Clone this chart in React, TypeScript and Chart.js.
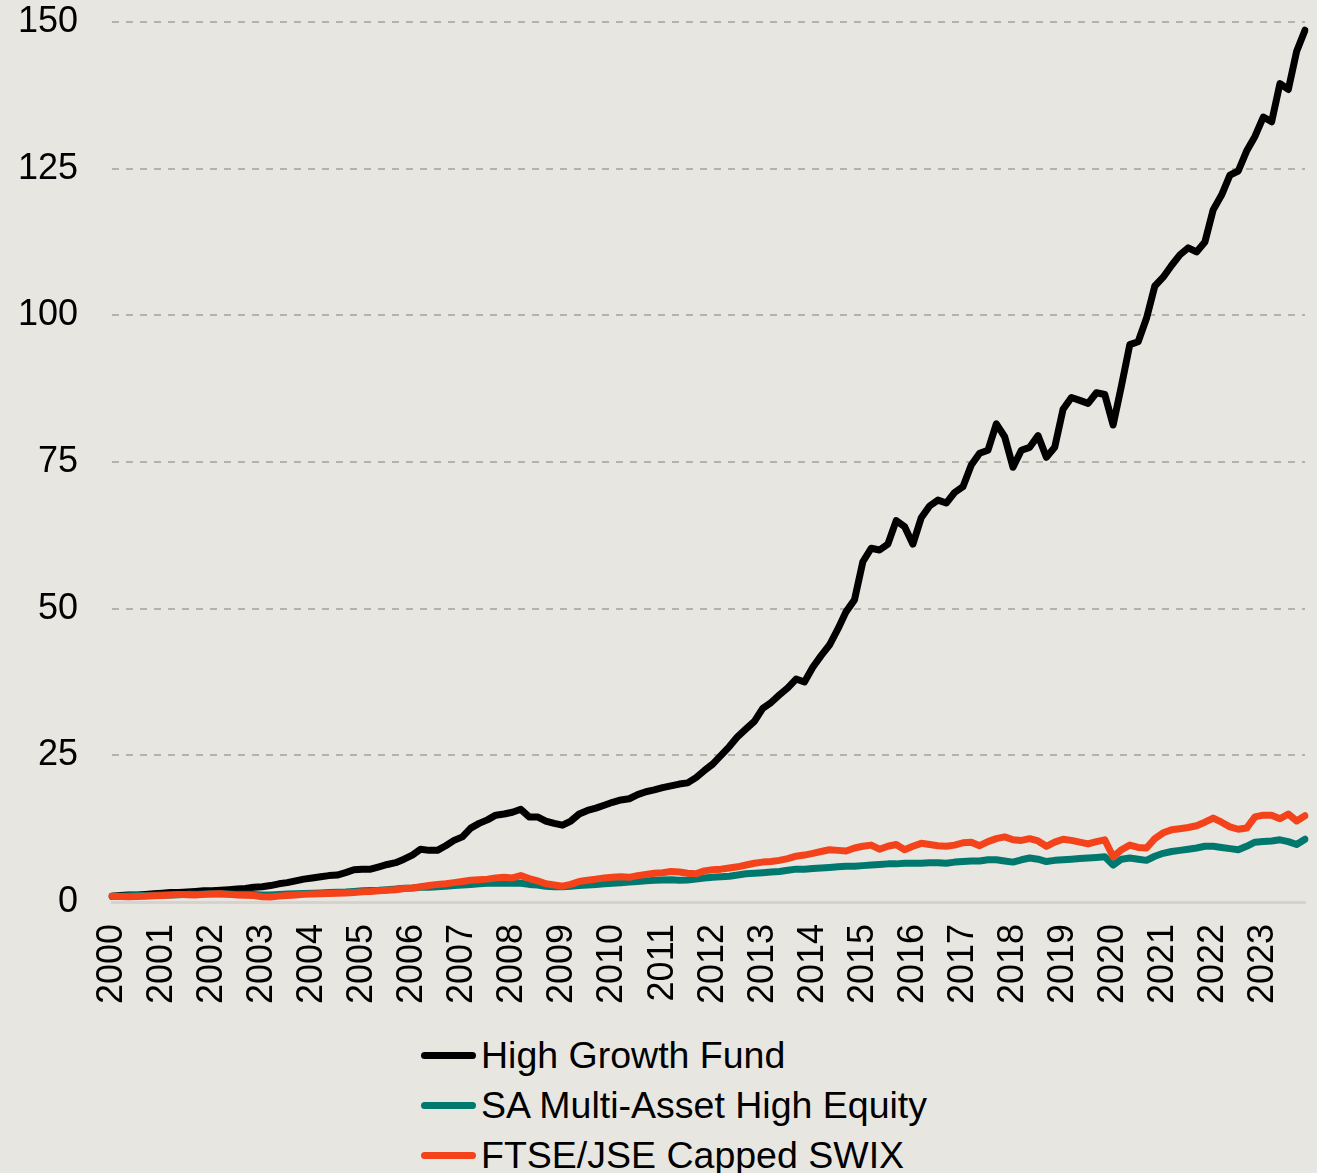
import React, { useEffect, useRef } from "react";
import { Chart, registerables } from "chart.js";

Chart.register(...registerables);

// Years shown on the axis and the bi-monthly sampling within each year
const years = [
  2000, 2001, 2002, 2003, 2004, 2005, 2006, 2007, 2008, 2009, 2010, 2011,
  2012, 2013, 2014, 2015, 2016, 2017, 2018, 2019, 2020, 2021, 2022, 2023,
];
const months = ["01", "03", "05", "07", "09", "11"];
const categories: string[] = [];
years.forEach((y) => months.forEach((m) => categories.push(`${y}-${m}`)));

const yTicks = [0, 25, 50, 75, 100, 125, 150];

const seriesNames = [
  "High Growth Fund",
  "SA Multi-Asset High Equity",
  "FTSE/JSE Capped SWIX",
];
const seriesColors = ["#000000", "#00786E", "#F4421A"];

// High Growth Fund (6 values per year)
const highGrowth = [
  1.0, 1.1, 1.2, 1.2, 1.3, 1.4,
  1.5, 1.6, 1.6, 1.7, 1.8, 1.9,
  1.9, 2.0, 2.1, 2.2, 2.3, 2.5,
  2.6, 2.8, 3.1, 3.3, 3.6, 3.9,
  4.1, 4.3, 4.5, 4.6, 5.0, 5.5,
  5.6, 5.6, 6.0, 6.4, 6.7, 7.3,
  8.0, 9.0, 8.8, 8.8, 9.6, 10.5,
  11.1, 12.6, 13.4, 14.0, 14.8, 15.0,
  15.3, 15.8, 14.5, 14.5, 13.8, 13.4,
  13.1, 13.8, 15.0, 15.6, 16.0, 16.5,
  17.0, 17.4, 17.6, 18.3, 18.8, 19.1,
  19.5, 19.8, 20.1, 20.3, 21.2, 22.4,
  23.5, 25.0, 26.5, 28.2, 29.5, 30.8,
  33.0, 34.0, 35.3, 36.5, 38.0, 37.5,
  40.0, 42.0, 43.8, 46.5, 49.5, 51.5,
  58.0, 60.3, 60.0, 61.0, 65.0, 64.0,
  61.0, 65.5, 67.5, 68.5, 68.0, 69.8,
  70.8, 74.5, 76.5, 77.0, 81.5, 79.3,
  74.1, 77.0, 77.5, 79.5, 75.8, 77.5,
  84.0, 86.0, 85.5, 85.0, 86.8, 86.5,
  81.3, 88.0, 95.0, 95.5, 99.5, 105.0,
  106.5, 108.5, 110.3, 111.5, 110.8, 112.5,
  118.0, 120.5, 123.9, 124.6, 128.0, 130.5,
  133.8, 133.0, 139.5, 138.5, 145.0, 148.6,
];

// SA Multi-Asset High Equity
const multiAsset = [
  1.0, 1.0, 1.05, 1.1, 1.1, 1.15,
  1.2, 1.2, 1.25, 1.3, 1.3, 1.35,
  1.4, 1.4, 1.35, 1.3, 1.3, 1.3,
  1.2, 1.2, 1.3, 1.35, 1.4, 1.45,
  1.5, 1.55, 1.6, 1.65, 1.7, 1.8,
  1.9, 1.95, 2.0, 2.1, 2.2, 2.35,
  2.4, 2.5, 2.5, 2.6, 2.7, 2.8,
  2.9, 3.0, 3.1, 3.2, 3.2, 3.2,
  3.2, 3.2, 3.0, 2.9, 2.7, 2.6,
  2.6, 2.7, 2.8, 2.9, 3.0, 3.1,
  3.2, 3.3, 3.4, 3.5, 3.6, 3.7,
  3.75, 3.8, 3.7, 3.75, 3.9, 4.1,
  4.2, 4.3, 4.4, 4.6, 4.8, 4.9,
  5.0, 5.1, 5.2, 5.4, 5.6, 5.6,
  5.7, 5.8, 5.9, 6.0, 6.1, 6.1,
  6.2, 6.3, 6.4, 6.5, 6.5, 6.6,
  6.6, 6.6, 6.7, 6.7, 6.6, 6.8,
  6.9, 7.0, 7.0, 7.2, 7.2, 7.0,
  6.8, 7.2, 7.5, 7.3, 6.9, 7.1,
  7.2, 7.3, 7.4, 7.5, 7.6, 7.7,
  6.3, 7.3, 7.5, 7.3, 7.1, 7.8,
  8.3, 8.6, 8.8, 9.0, 9.2, 9.5,
  9.5, 9.3, 9.1, 8.9, 9.5, 10.2,
  10.3, 10.4, 10.6, 10.3, 9.8, 10.7,
];

// FTSE/JSE Capped SWIX
const cappedSwix = [
  1.0, 0.95, 0.9, 0.95, 1.0, 1.05,
  1.1, 1.2, 1.3, 1.25, 1.2, 1.3,
  1.35, 1.4, 1.3, 1.2, 1.15, 1.1,
  0.9, 0.85, 1.0, 1.1, 1.2, 1.3,
  1.35, 1.4, 1.45, 1.5, 1.55, 1.6,
  1.75, 1.8, 1.9, 2.0, 2.1, 2.3,
  2.4, 2.6, 2.8, 3.0, 3.1, 3.3,
  3.5, 3.7, 3.8, 3.9, 4.1, 4.2,
  4.1, 4.5, 4.0, 3.6, 3.1, 2.9,
  2.7, 3.0, 3.5, 3.7, 3.9, 4.1,
  4.2, 4.3, 4.2, 4.5, 4.7, 4.9,
  5.0, 5.2, 5.1, 4.9, 4.8, 5.3,
  5.5, 5.6, 5.8, 6.0, 6.3, 6.6,
  6.8, 6.9, 7.1, 7.4, 7.8, 8.0,
  8.3, 8.6, 8.9, 8.8, 8.7, 9.2,
  9.5, 9.7, 9.0, 9.5, 9.8, 8.9,
  9.5, 10.0, 9.8, 9.6, 9.5, 9.7,
  10.1, 10.2, 9.6, 10.3, 10.8, 11.1,
  10.6, 10.5, 10.8, 10.4, 9.5, 10.2,
  10.7, 10.5, 10.2, 9.9, 10.3, 10.6,
  7.7, 8.9, 9.7, 9.3, 9.2, 10.8,
  11.8, 12.3, 12.5, 12.7, 13.0, 13.6,
  14.3, 13.6, 12.8, 12.4, 12.6, 14.5,
  14.8, 14.8, 14.2, 15.0, 13.8, 14.7,
];

const seriesData = [highGrowth, multiAsset, cappedSwix];

const FONT = '"Liberation Sans", Arial, sans-serif';
const BG = "#E8E6E1";

export default function App() {
  const canvasRef = useRef<HTMLCanvasElement | null>(null);

  useEffect(() => {
    document.body.style.margin = "0";
    document.body.style.background = BG;
    const canvas = canvasRef.current;
    if (!canvas) return;
    const chart = new Chart(canvas, {
      type: "line",
      data: {
        labels: categories,
        datasets: seriesNames.map((name, i) => ({
          label: name,
          data: seriesData[i],
          borderColor: seriesColors[i],
          backgroundColor: seriesColors[i],
          borderWidth: 7,
          pointRadius: 0,
          tension: 0,
          borderCapStyle: "round" as const,
          borderJoinStyle: "round" as const,
          order: 3 - i,
        })),
      },
      options: {
        animation: false,
        responsive: true,
        maintainAspectRatio: false,
        layout: { padding: { top: 22, right: 12, left: 0, bottom: 0 } },
        plugins: {
          legend: { display: false },
          tooltip: { enabled: false },
        },
        scales: {
          x: {
            type: "category",
            offset: false,
            grid: { display: false, drawTicks: false },
            border: { display: true, color: "#D6D3CE", width: 3 },
            ticks: {
              autoSkip: false,
              minRotation: 90,
              maxRotation: 90,
              padding: 22,
              color: "#000000",
              font: { family: FONT, size: 36 },
              callback: (_v: any, idx: number) =>
                idx % months.length === 0
                  ? categories[idx].slice(0, 4)
                  : "",
            },
            afterFit: (scale: any) => {
              scale.height = 128;
              scale.paddingLeft = 0;
              scale.paddingRight = 0;
            },
          },
          y: {
            min: 0,
            max: 150,
            afterBuildTicks: (scale: any) => {
              scale.ticks = yTicks.map((v) => ({ value: v }));
            },
            grid: {
              drawTicks: false,
              lineWidth: 2,
              color: (ctx: any) =>
                ctx.tick && ctx.tick.value === 0 ? "rgba(0,0,0,0)" : "#B5B1AC",
            },
            border: { display: false, dash: [7, 7] },
            ticks: {
              padding: 34,
              color: "#000000",
              font: { family: FONT, size: 36 },
            },
            afterFit: (scale: any) => {
              scale.width = 112;
              scale.paddingTop = 0;
              scale.paddingBottom = 0;
            },
          },
        },
      },
    });
    return () => chart.destroy();
  }, []);

  return (
    <div
      style={{
        position: "relative",
        width: 1317,
        height: 1173,
        background: BG,
        overflow: "hidden",
      }}
    >
      <div style={{ position: "absolute", left: 0, top: 0, width: 1317, height: 1030 }}>
        <canvas ref={canvasRef} />
      </div>
      <div
        style={{
          position: "absolute",
          left: 421,
          top: 1030,
          fontFamily: FONT,
          fontSize: 37.5,
          color: "#000",
        }}
      >
        {seriesNames.map((name, i) => (
          <div
            key={name}
            style={{ display: "flex", alignItems: "center", height: 50, lineHeight: "50px" }}
          >
            <span
              style={{
                display: "inline-block",
                width: 55,
                height: 7,
                borderRadius: 4,
                background: seriesColors[i],
                marginRight: 5,
              }}
            />
            <span>{name}</span>
          </div>
        ))}
      </div>
    </div>
  );
}
